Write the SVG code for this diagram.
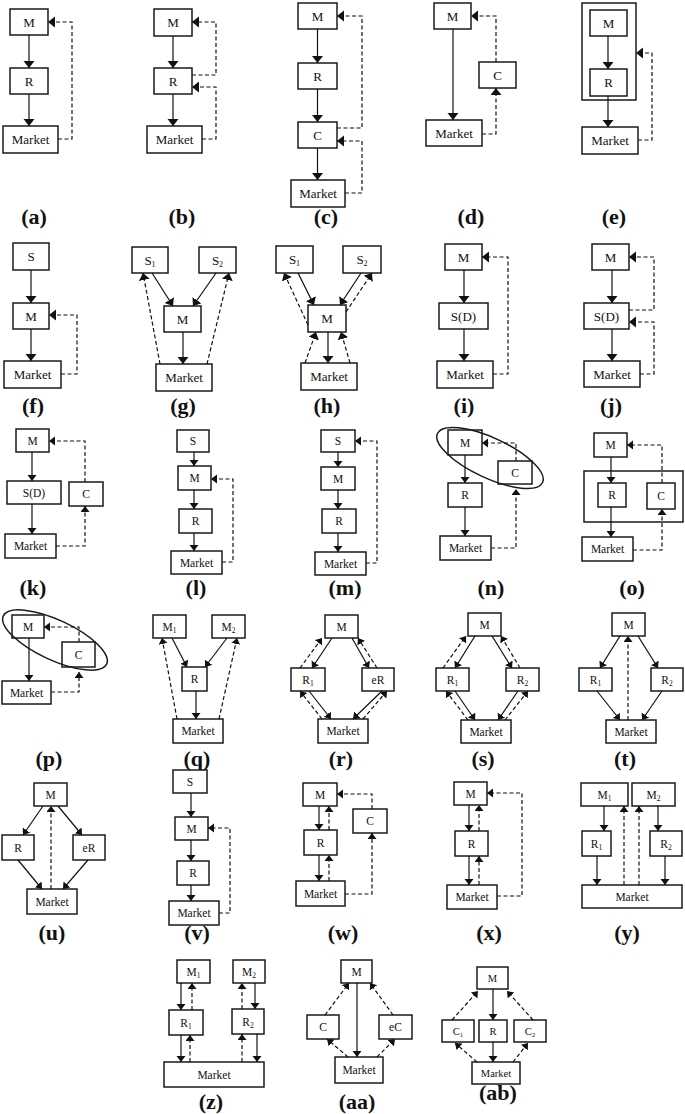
<svg xmlns="http://www.w3.org/2000/svg" width="685" height="1114" viewBox="0 0 685 1114">
<style>
.bx{fill:#fff;stroke:#1a1a1a;stroke-width:1.5}
.fr{fill:none;stroke:#1a1a1a;stroke-width:1.5}
.t{font-family:"Liberation Serif","Times New Roman",serif;font-size:13px;text-anchor:middle;fill:#111}
.t2{font-size:11.5px}
.t3{font-size:10.5px}
.lab{font-family:"Liberation Serif","Times New Roman",serif;font-size:22px;font-weight:bold;text-anchor:middle;fill:#111}
.s{fill:none;stroke:#111;stroke-width:1.2}
.d{fill:none;stroke:#111;stroke-width:1.2;stroke-dasharray:4 2.5}
</style>
<defs>
<marker id="A" markerUnits="userSpaceOnUse" markerWidth="8" markerHeight="12" refX="7" refY="5.5" orient="auto"><path d="M0,0 L7,5.5 L0,11 z" fill="#111"/></marker>
<marker id="B" markerUnits="userSpaceOnUse" markerWidth="7" markerHeight="10" refX="6" refY="4.5" orient="auto"><path d="M0,0 L6,4.5 L0,9 z" fill="#111"/></marker>
</defs>
<rect x="0" y="0" width="685" height="1114" fill="#fff"/>

<!-- (a) -->
<g id="fig-a">
<g id="a-M"><rect class="bx" x="10" y="9" width="38" height="26"/><text class="t" x="29" y="26.5">M</text></g>
<g id="a-R"><rect class="bx" x="10" y="68" width="38" height="26"/><text class="t" x="29" y="85.5">R</text></g>
<g id="a-Market"><rect class="bx" x="3" y="126" width="55" height="27"/><text class="t" x="30.5" y="144">Market</text></g>
<g id="a-edges"><line class="s" x1="29" y1="35" x2="29" y2="68" marker-end="url(#A)"/><line class="s" x1="29" y1="94" x2="29" y2="126" marker-end="url(#A)"/><polyline class="d" points="58,139 72,139 72,22 48,22" marker-end="url(#A)"/></g>
<text class="lab" x="34" y="224">(a)</text>
</g>

<!-- (b) -->
<g id="fig-b">
<g id="b-M"><rect class="bx" x="154" y="9" width="38" height="27"/><text class="t" x="173" y="27">M</text></g>
<g id="b-R"><rect class="bx" x="154" y="68" width="38" height="26"/><text class="t" x="173" y="85.5">R</text></g>
<g id="b-Market"><rect class="bx" x="147" y="126" width="55" height="27"/><text class="t" x="174.5" y="144">Market</text></g>
<g id="b-edges"><line class="s" x1="173" y1="36" x2="173" y2="68" marker-end="url(#A)"/><line class="s" x1="173" y1="94" x2="173" y2="126" marker-end="url(#A)"/><polyline class="d" points="192,75 216,75 216,22 192,22" marker-end="url(#A)"/><polyline class="d" points="202,139 216,139 216,87 192,87" marker-end="url(#A)"/></g>
<text class="lab" x="182" y="224">(b)</text>
</g>

<!-- (c) -->
<g id="fig-c">
<g id="c-M"><rect class="bx" x="298" y="3" width="39" height="26"/><text class="t" x="317.5" y="20.5">M</text></g>
<g id="c-R"><rect class="bx" x="298" y="63" width="39" height="26"/><text class="t" x="317.5" y="80.5">R</text></g>
<g id="c-C"><rect class="bx" x="298" y="122" width="39" height="26"/><text class="t" x="317.5" y="139.5">C</text></g>
<g id="c-Market"><rect class="bx" x="291" y="180" width="54" height="27"/><text class="t" x="318" y="198">Market</text></g>
<g id="c-edges"><line class="s" x1="317.5" y1="29" x2="317.5" y2="63" marker-end="url(#A)"/><line class="s" x1="317.5" y1="89" x2="317.5" y2="122" marker-end="url(#A)"/><line class="s" x1="317.5" y1="148" x2="317.5" y2="180" marker-end="url(#A)"/><polyline class="d" points="337,128 362,128 362,16 337,16" marker-end="url(#A)"/><polyline class="d" points="345,193 362,193 362,141 337,141" marker-end="url(#A)"/></g>
<text class="lab" x="326" y="224">(c)</text>
</g>

<!-- (d) -->
<g id="fig-d">
<g id="d-M"><rect class="bx" x="434" y="3" width="37" height="26"/><text class="t" x="452.5" y="20.5">M</text></g>
<g id="d-C"><rect class="bx" x="479" y="62" width="37" height="26"/><text class="t" x="497.5" y="79.5">C</text></g>
<g id="d-Market"><rect class="bx" x="426" y="120" width="56" height="26"/><text class="t" x="454" y="137.5">Market</text></g>
<g id="d-edges"><line class="s" x1="453" y1="29" x2="453" y2="120" marker-end="url(#A)"/><polyline class="d" points="496,62 496,16 471,16" marker-end="url(#A)"/><polyline class="d" points="482,134 496,134 496,88" marker-end="url(#A)"/></g>
<text class="lab" x="471" y="224">(d)</text>
</g>

<!-- (e) -->
<g id="fig-e">
<g id="e-group"><rect class="fr" x="582" y="3" width="54" height="97"/></g>
<g id="e-M"><rect class="bx" x="590" y="10" width="37" height="26"/><text class="t" x="608.5" y="27.5">M</text></g>
<g id="e-R"><rect class="bx" x="590" y="69" width="37" height="27"/><text class="t" x="608.5" y="87">R</text></g>
<g id="e-Market"><rect class="bx" x="582" y="127" width="56" height="27"/><text class="t" x="610" y="145">Market</text></g>
<g id="e-edges"><line class="s" x1="608" y1="36" x2="608" y2="69" marker-end="url(#A)"/><line class="s" x1="608" y1="96" x2="608" y2="127" marker-end="url(#A)"/><polyline class="d" points="638,140 652,140 652,53 636,53" marker-end="url(#A)"/></g>
<text class="lab" x="614" y="224">(e)</text>
</g>

<!-- (f) -->
<g id="fig-f">
<g id="f-S"><rect class="bx" x="13" y="243" width="36" height="27"/><text class="t" x="31" y="261">S</text></g>
<g id="f-M"><rect class="bx" x="13" y="303" width="36" height="26"/><text class="t" x="31" y="320.5">M</text></g>
<g id="f-Market"><rect class="bx" x="4" y="361" width="57" height="27"/><text class="t" x="32.5" y="379">Market</text></g>
<g id="f-edges"><line class="s" x1="31" y1="270" x2="31" y2="303" marker-end="url(#A)"/><line class="s" x1="31" y1="329" x2="31" y2="361" marker-end="url(#A)"/><polyline class="d" points="61,374 77,374 77,315 49,315" marker-end="url(#A)"/></g>
<text class="lab" x="33" y="413">(f)</text>
</g>

<!-- (g) -->
<g id="fig-g">
<g id="g-S1"><rect class="bx" x="132" y="247" width="36" height="26"/><text class="t" x="150" y="264.5">S<tspan font-size="8" dy="2">1</tspan></text></g>
<g id="g-S2"><rect class="bx" x="199" y="247" width="37" height="26"/><text class="t" x="217.5" y="264.5">S<tspan font-size="8" dy="2">2</tspan></text></g>
<g id="g-M"><rect class="bx" x="164" y="306" width="37" height="26"/><text class="t" x="182.5" y="323.5">M</text></g>
<g id="g-Market"><rect class="bx" x="156" y="364" width="56" height="27"/><text class="t" x="184" y="382">Market</text></g>
<g id="g-edges"><line class="s" x1="152" y1="273" x2="173" y2="306" marker-end="url(#A)"/><line class="s" x1="216" y1="273" x2="193" y2="306" marker-end="url(#A)"/><line class="s" x1="183" y1="332" x2="183" y2="364" marker-end="url(#A)"/><line class="d" x1="160" y1="364" x2="143" y2="273" marker-end="url(#A)"/><line class="d" x1="207" y1="364" x2="229" y2="273" marker-end="url(#A)"/></g>
<text class="lab" x="183" y="413">(g)</text>
</g>

<!-- (h) -->
<g id="fig-h">
<g id="h-S1"><rect class="bx" x="276" y="246" width="37" height="27"/><text class="t" x="294.5" y="264">S<tspan font-size="8" dy="2">1</tspan></text></g>
<g id="h-S2"><rect class="bx" x="343" y="246" width="38" height="27"/><text class="t" x="362" y="264">S<tspan font-size="8" dy="2">2</tspan></text></g>
<g id="h-M"><rect class="bx" x="308" y="305" width="38" height="27"/><text class="t" x="327" y="323">M</text></g>
<g id="h-Market"><rect class="bx" x="301" y="363" width="56" height="27"/><text class="t" x="329" y="381">Market</text></g>
<g id="h-edges"><line class="s" x1="298" y1="273" x2="314" y2="305" marker-end="url(#A)"/><line class="s" x1="361" y1="273" x2="340" y2="305" marker-end="url(#A)"/><line class="s" x1="328" y1="332" x2="328" y2="363" marker-end="url(#A)"/><line class="d" x1="308" y1="325" x2="284" y2="273" marker-end="url(#A)"/><line class="d" x1="346" y1="312" x2="372" y2="273" marker-end="url(#A)"/><line class="d" x1="305" y1="363" x2="316" y2="332" marker-end="url(#A)"/><line class="d" x1="350" y1="363" x2="341" y2="332" marker-end="url(#A)"/></g>
<text class="lab" x="327" y="413">(h)</text>
</g>

<!-- (i) -->
<g id="fig-i">
<g id="i-M"><rect class="bx" x="445" y="244" width="37" height="26"/><text class="t" x="463.5" y="261.5">M</text></g>
<g id="i-SD"><rect class="bx" x="439" y="303" width="49" height="26"/><text class="t" x="463.5" y="320.5">S(D)</text></g>
<g id="i-Market"><rect class="bx" x="437" y="361" width="56" height="27"/><text class="t" x="465" y="379">Market</text></g>
<g id="i-edges"><line class="s" x1="464" y1="270" x2="464" y2="303" marker-end="url(#A)"/><line class="s" x1="464" y1="329" x2="464" y2="361" marker-end="url(#A)"/><polyline class="d" points="493,374 508,374 508,257 482,257" marker-end="url(#A)"/></g>
<text class="lab" x="464" y="413">(i)</text>
</g>

<!-- (j) -->
<g id="fig-j">
<g id="j-M"><rect class="bx" x="592" y="244" width="37" height="26"/><text class="t" x="610.5" y="261.5">M</text></g>
<g id="j-SD"><rect class="bx" x="584" y="303" width="45" height="26"/><text class="t" x="606.5" y="320.5">S(D)</text></g>
<g id="j-Market"><rect class="bx" x="584" y="361" width="56" height="26"/><text class="t" x="612" y="378.5">Market</text></g>
<g id="j-edges"><line class="s" x1="612" y1="270" x2="612" y2="303" marker-end="url(#A)"/><line class="s" x1="612" y1="329" x2="612" y2="361" marker-end="url(#A)"/><polyline class="d" points="629,310 654,310 654,257 629,257" marker-end="url(#A)"/><polyline class="d" points="640,374 654,374 654,322 629,322" marker-end="url(#A)"/></g>
<text class="lab" x="611" y="413">(j)</text>
</g>

<!-- (k) -->
<g id="fig-k">
<g id="k-M"><rect class="bx" x="16" y="429" width="33" height="23"/><text class="t t2" x="32.5" y="444.5">M</text></g>
<g id="k-SD"><rect class="bx" x="7" y="481" width="54" height="23"/><text class="t t2" x="34" y="496.5">S(D)</text></g>
<g id="k-C"><rect class="bx" x="69" y="482" width="34" height="24"/><text class="t t2" x="86" y="498">C</text></g>
<g id="k-Market"><rect class="bx" x="5" y="534" width="51" height="24"/><text class="t t2" x="30.5" y="550">Market</text></g>
<g id="k-edges"><line class="s" x1="32" y1="452" x2="32" y2="481" marker-end="url(#B)"/><line class="s" x1="32" y1="504" x2="32" y2="534" marker-end="url(#B)"/><polyline class="d" points="85,482 85,441 49,441" marker-end="url(#B)"/><polyline class="d" points="56,546 85,546 85,506" marker-end="url(#B)"/></g>
<text class="lab" x="33" y="595">(k)</text>
</g>

<!-- (l) -->
<g id="fig-l">
<g id="l-S"><rect class="bx" x="177" y="430" width="32" height="22"/><text class="t t2" x="193" y="445">S</text></g>
<g id="l-M"><rect class="bx" x="178" y="466" width="33" height="24"/><text class="t t2" x="194.5" y="482">M</text></g>
<g id="l-R"><rect class="bx" x="179" y="509" width="33" height="24"/><text class="t t2" x="195.5" y="525">R</text></g>
<g id="l-Market"><rect class="bx" x="171" y="551" width="51" height="23"/><text class="t t2" x="196.5" y="566.5">Market</text></g>
<g id="l-edges"><line class="s" x1="194" y1="452" x2="194" y2="466" marker-end="url(#B)"/><line class="s" x1="194" y1="490" x2="194" y2="509" marker-end="url(#B)"/><line class="s" x1="194" y1="533" x2="194" y2="551" marker-end="url(#B)"/><polyline class="d" points="222,562 233,562 233,479 211,479" marker-end="url(#B)"/></g>
<text class="lab" x="196" y="595">(l)</text>
</g>

<!-- (m) -->
<g id="fig-m">
<g id="m-S"><rect class="bx" x="321" y="430" width="34" height="22"/><text class="t t2" x="338" y="445">S</text></g>
<g id="m-M"><rect class="bx" x="321" y="467" width="34" height="23"/><text class="t t2" x="338" y="482.5">M</text></g>
<g id="m-R"><rect class="bx" x="322" y="509" width="34" height="24"/><text class="t t2" x="339" y="525">R</text></g>
<g id="m-Market"><rect class="bx" x="315" y="552" width="51" height="23"/><text class="t t2" x="340.5" y="567.5">Market</text></g>
<g id="m-edges"><line class="s" x1="338" y1="452" x2="338" y2="467" marker-end="url(#B)"/><line class="s" x1="338" y1="490" x2="338" y2="509" marker-end="url(#B)"/><line class="s" x1="338" y1="533" x2="338" y2="552" marker-end="url(#B)"/><polyline class="d" points="366,563 377,563 377,441 355,441" marker-end="url(#B)"/></g>
<text class="lab" x="345" y="595">(m)</text>
</g>

<!-- (n) -->
<g id="fig-n">
<g id="n-M"><rect class="bx" x="448" y="430" width="34" height="25"/><text class="t t2" x="465" y="446.5">M</text></g>
<g id="n-C"><rect class="bx" x="498" y="461" width="34" height="23"/><text class="t t2" x="515" y="476.5">C</text></g>
<g id="n-ellipse"><ellipse class="fr" cx="490" cy="458" rx="58" ry="20" transform="rotate(25 490 458)"/></g>
<g id="n-R"><rect class="bx" x="448" y="483" width="34" height="24"/><text class="t t2" x="465" y="499">R</text></g>
<g id="n-Market"><rect class="bx" x="440" y="536" width="51" height="24"/><text class="t t2" x="465.5" y="552">Market</text></g>
<g id="n-edges"><line class="s" x1="465" y1="455" x2="465" y2="483" marker-end="url(#B)"/><line class="s" x1="465" y1="507" x2="465" y2="536" marker-end="url(#B)"/><polyline class="d" points="516,461 516,443 482,443" marker-end="url(#B)"/><polyline class="d" points="491,548 516,548 516,489" marker-end="url(#B)"/></g>
<text class="lab" x="491" y="595">(n)</text>
</g>

<!-- (o) -->
<g id="fig-o">
<g id="o-M"><rect class="bx" x="594" y="433" width="33" height="24"/><text class="t t2" x="610.5" y="449">M</text></g>
<g id="o-group"><rect class="fr" x="584" y="471" width="99" height="51"/></g>
<g id="o-R"><rect class="bx" x="598" y="483" width="28" height="24"/><text class="t t2" x="612" y="499">R</text></g>
<g id="o-C"><rect class="bx" x="647" y="483" width="28" height="26"/><text class="t t2" x="661" y="500">C</text></g>
<g id="o-Market"><rect class="bx" x="582" y="537" width="51" height="24"/><text class="t t2" x="607.5" y="553">Market</text></g>
<g id="o-edges"><line class="s" x1="611" y1="457" x2="611" y2="483" marker-end="url(#B)"/><line class="s" x1="611" y1="507" x2="611" y2="537" marker-end="url(#B)"/><polyline class="d" points="662,483 662,445 627,445" marker-end="url(#B)"/><polyline class="d" points="633,550 662,550 662,509" marker-end="url(#B)"/></g>
<text class="lab" x="632" y="595">(o)</text>
</g>

<!-- (p) -->
<g id="fig-p">
<g id="p-M"><rect class="bx" x="12" y="615" width="32" height="23"/><text class="t t2" x="28" y="630.5">M</text></g>
<g id="p-C"><rect class="bx" x="62" y="642" width="33" height="25"/><text class="t t2" x="78.5" y="658.5">C</text></g>
<g id="p-ellipse"><ellipse class="fr" cx="55" cy="640" rx="57" ry="20" transform="rotate(25 55 640)"/></g>
<g id="p-Market"><rect class="bx" x="2" y="681" width="49" height="23"/><text class="t t2" x="26.5" y="696.5">Market</text></g>
<g id="p-edges"><line class="s" x1="29" y1="638" x2="29" y2="681" marker-end="url(#B)"/><polyline class="d" points="79,642 79,627 44,627" marker-end="url(#B)"/><polyline class="d" points="51,692 79,692 79,672" marker-end="url(#B)"/></g>
<text class="lab" x="49" y="766">(p)</text>
</g>

<!-- (q) -->
<g id="fig-q">
<g id="q-M1"><rect class="bx" x="153" y="615" width="33" height="23"/><text class="t t2" x="169.5" y="630.5">M<tspan font-size="7.5" dy="2">1</tspan></text></g>
<g id="q-M2"><rect class="bx" x="212" y="615" width="33" height="23"/><text class="t t2" x="228.5" y="630.5">M<tspan font-size="7.5" dy="2">2</tspan></text></g>
<g id="q-R"><rect class="bx" x="182" y="667" width="25" height="24"/><text class="t t2" x="194.5" y="683">R</text></g>
<g id="q-Market"><rect class="bx" x="173" y="719" width="50" height="24"/><text class="t t2" x="198" y="735">Market</text></g>
<g id="q-edges"><line class="s" x1="172" y1="638" x2="187" y2="667" marker-end="url(#B)"/><line class="s" x1="227" y1="638" x2="205" y2="667" marker-end="url(#B)"/><line class="s" x1="196" y1="691" x2="196" y2="719" marker-end="url(#B)"/><line class="d" x1="177" y1="719" x2="162" y2="638" marker-end="url(#B)"/><line class="d" x1="219" y1="719" x2="237" y2="638" marker-end="url(#B)"/></g>
<text class="lab" x="197" y="766">(q)</text>
</g>

<!-- (r) -->
<g id="fig-r">
<g id="r-M"><rect class="bx" x="325" y="615" width="33" height="23"/><text class="t t2" x="341.5" y="630.5">M</text></g>
<g id="r-R1"><rect class="bx" x="291" y="668" width="34" height="23"/><text class="t t2" x="308" y="683.5">R<tspan font-size="7.5" dy="2">1</tspan></text></g>
<g id="r-eR"><rect class="bx" x="362" y="668" width="32" height="23"/><text class="t t2" x="378" y="683.5">eR</text></g>
<g id="r-Market"><rect class="bx" x="318" y="719" width="50" height="24"/><text class="t t2" x="343" y="735">Market</text></g>
<g id="r-edges"><line class="s" x1="332" y1="638" x2="312" y2="668" marker-end="url(#B)"/><line class="s" x1="352" y1="638" x2="369" y2="668" marker-end="url(#B)"/><line class="s" x1="309" y1="691" x2="331" y2="719" marker-end="url(#B)"/><line class="s" x1="382" y1="691" x2="353" y2="719" marker-end="url(#B)"/><line class="d" x1="300" y1="668" x2="322" y2="638" marker-end="url(#B)"/><line class="d" x1="377" y1="668" x2="358" y2="638" marker-end="url(#B)"/><line class="d" x1="322" y1="719" x2="300" y2="691" marker-end="url(#B)"/><line class="d" x1="363" y1="719" x2="387" y2="691" marker-end="url(#B)"/></g>
<text class="lab" x="341" y="766">(r)</text>
</g>

<!-- (s) -->
<g id="fig-s">
<g id="s-M"><rect class="bx" x="468" y="613" width="33" height="23"/><text class="t t2" x="484.5" y="628.5">M</text></g>
<g id="s-R1"><rect class="bx" x="436" y="668" width="33" height="23"/><text class="t t2" x="452.5" y="683.5">R<tspan font-size="7.5" dy="2">1</tspan></text></g>
<g id="s-R2"><rect class="bx" x="506" y="668" width="33" height="23"/><text class="t t2" x="522.5" y="683.5">R<tspan font-size="7.5" dy="2">2</tspan></text></g>
<g id="s-Market"><rect class="bx" x="461" y="720" width="50" height="23"/><text class="t t2" x="486" y="735.5">Market</text></g>
<g id="s-edges"><line class="s" x1="475" y1="636" x2="455" y2="668" marker-end="url(#B)"/><line class="s" x1="492" y1="636" x2="512" y2="668" marker-end="url(#B)"/><line class="s" x1="455" y1="691" x2="475" y2="720" marker-end="url(#B)"/><line class="s" x1="518" y1="691" x2="498" y2="720" marker-end="url(#B)"/><line class="d" x1="443" y1="668" x2="466" y2="636" marker-end="url(#B)"/><line class="d" x1="520" y1="668" x2="501" y2="636" marker-end="url(#B)"/><line class="d" x1="468" y1="720" x2="446" y2="691" marker-end="url(#B)"/><line class="d" x1="505" y1="720" x2="528" y2="691" marker-end="url(#B)"/></g>
<text class="lab" x="483" y="766">(s)</text>
</g>

<!-- (t) -->
<g id="fig-t">
<g id="t-M"><rect class="bx" x="612" y="613" width="33" height="23"/><text class="t t2" x="628.5" y="628.5">M</text></g>
<g id="t-R1"><rect class="bx" x="579" y="668" width="33" height="23"/><text class="t t2" x="595.5" y="683.5">R<tspan font-size="7.5" dy="2">1</tspan></text></g>
<g id="t-R2"><rect class="bx" x="651" y="668" width="32" height="23"/><text class="t t2" x="667" y="683.5">R<tspan font-size="7.5" dy="2">2</tspan></text></g>
<g id="t-Market"><rect class="bx" x="606" y="720" width="50" height="23"/><text class="t t2" x="631" y="735.5">Market</text></g>
<g id="t-edges"><line class="s" x1="620" y1="636" x2="600" y2="668" marker-end="url(#B)"/><line class="s" x1="638" y1="636" x2="658" y2="668" marker-end="url(#B)"/><line class="s" x1="597" y1="691" x2="620" y2="720" marker-end="url(#B)"/><line class="s" x1="662" y1="691" x2="642" y2="720" marker-end="url(#B)"/><line class="d" x1="628" y1="720" x2="628" y2="636" marker-end="url(#B)"/></g>
<text class="lab" x="625" y="766">(t)</text>
</g>

<!-- (u) -->
<g id="fig-u">
<g id="u-M"><rect class="bx" x="34" y="783" width="33" height="23"/><text class="t t2" x="50.5" y="798.5">M</text></g>
<g id="u-R"><rect class="bx" x="2" y="835" width="32" height="25"/><text class="t t2" x="18" y="851.5">R</text></g>
<g id="u-eR"><rect class="bx" x="73" y="835" width="32" height="25"/><text class="t t2" x="89" y="851.5">eR</text></g>
<g id="u-Market"><rect class="bx" x="27" y="889" width="50" height="25"/><text class="t t2" x="52" y="905.5">Market</text></g>
<g id="u-edges"><line class="s" x1="43" y1="806" x2="23" y2="835" marker-end="url(#B)"/><line class="s" x1="58" y1="806" x2="82" y2="835" marker-end="url(#B)"/><line class="s" x1="18" y1="860" x2="42" y2="889" marker-end="url(#B)"/><line class="s" x1="88" y1="860" x2="63" y2="889" marker-end="url(#B)"/><line class="d" x1="51" y1="889" x2="51" y2="806" marker-end="url(#B)"/></g>
<text class="lab" x="52" y="940">(u)</text>
</g>

<!-- (v) -->
<g id="fig-v">
<g id="v-S"><rect class="bx" x="173" y="770" width="34" height="23"/><text class="t t2" x="190" y="785.5">S</text></g>
<g id="v-M"><rect class="bx" x="175" y="817" width="33" height="23"/><text class="t t2" x="191.5" y="832.5">M</text></g>
<g id="v-R"><rect class="bx" x="177" y="861" width="32" height="24"/><text class="t t2" x="193" y="877">R</text></g>
<g id="v-Market"><rect class="bx" x="169" y="901" width="50" height="24"/><text class="t t2" x="194" y="917">Market</text></g>
<g id="v-edges"><line class="s" x1="191" y1="793" x2="191" y2="817" marker-end="url(#B)"/><line class="s" x1="191" y1="840" x2="191" y2="861" marker-end="url(#B)"/><line class="s" x1="191" y1="885" x2="191" y2="901" marker-end="url(#B)"/><polyline class="d" points="219,913 230,913 230,828 208,828" marker-end="url(#B)"/></g>
<text class="lab" x="197" y="940">(v)</text>
</g>

<!-- (w) -->
<g id="fig-w">
<g id="w-M"><rect class="bx" x="303" y="783" width="34" height="23"/><text class="t t2" x="320" y="798.5">M</text></g>
<g id="w-C"><rect class="bx" x="353" y="809" width="34" height="24"/><text class="t t2" x="370" y="825">C</text></g>
<g id="w-R"><rect class="bx" x="304" y="830" width="33" height="25"/><text class="t t2" x="320.5" y="846.5">R</text></g>
<g id="w-Market"><rect class="bx" x="296" y="881" width="49" height="25"/><text class="t t2" x="320.5" y="897.5">Market</text></g>
<g id="w-edges"><line class="s" x1="319" y1="806" x2="319" y2="830" marker-end="url(#B)"/><line class="d" x1="329" y1="830" x2="329" y2="806" marker-end="url(#B)"/><line class="s" x1="319" y1="855" x2="319" y2="881" marker-end="url(#B)"/><line class="d" x1="329" y1="881" x2="329" y2="855" marker-end="url(#B)"/><polyline class="d" points="372,809 372,794 337,794" marker-end="url(#B)"/><polyline class="d" points="345,894 372,894 372,833" marker-end="url(#B)"/></g>
<text class="lab" x="343" y="940">(w)</text>
</g>

<!-- (x) -->
<g id="fig-x">
<g id="x-M"><rect class="bx" x="454" y="782" width="33" height="23"/><text class="t t2" x="470.5" y="797.5">M</text></g>
<g id="x-R"><rect class="bx" x="455" y="831" width="33" height="25"/><text class="t t2" x="471.5" y="847.5">R</text></g>
<g id="x-Market"><rect class="bx" x="447" y="885" width="50" height="24"/><text class="t t2" x="472" y="901">Market</text></g>
<g id="x-edges"><line class="s" x1="469" y1="805" x2="469" y2="831" marker-end="url(#B)"/><line class="d" x1="479" y1="831" x2="479" y2="805" marker-end="url(#B)"/><line class="s" x1="469" y1="856" x2="469" y2="885" marker-end="url(#B)"/><line class="d" x1="479" y1="885" x2="479" y2="856" marker-end="url(#B)"/><polyline class="d" points="497,896 522,896 522,793 487,793" marker-end="url(#B)"/></g>
<text class="lab" x="489" y="940">(x)</text>
</g>

<!-- (y) -->
<g id="fig-y">
<g id="y-M1"><rect class="bx" x="581" y="783" width="47" height="23"/><text class="t t2" x="604.5" y="798.5">M<tspan font-size="7.5" dy="2">1</tspan></text></g>
<g id="y-M2"><rect class="bx" x="632" y="783" width="43" height="23"/><text class="t t2" x="653.5" y="798.5">M<tspan font-size="7.5" dy="2">2</tspan></text></g>
<g id="y-R1"><rect class="bx" x="582" y="831" width="29" height="25"/><text class="t t2" x="596.5" y="847.5">R<tspan font-size="7.5" dy="2">1</tspan></text></g>
<g id="y-R2"><rect class="bx" x="650" y="831" width="32" height="25"/><text class="t t2" x="666" y="847.5">R<tspan font-size="7.5" dy="2">2</tspan></text></g>
<g id="y-Market"><rect class="bx" x="582" y="885" width="100" height="23"/><text class="t t2" x="632" y="900.5">Market</text></g>
<g id="y-edges"><line class="s" x1="604" y1="806" x2="604" y2="831" marker-end="url(#B)"/><line class="s" x1="658" y1="806" x2="658" y2="831" marker-end="url(#B)"/><line class="s" x1="597" y1="856" x2="597" y2="885" marker-end="url(#B)"/><line class="s" x1="665" y1="856" x2="665" y2="885" marker-end="url(#B)"/><line class="d" x1="624" y1="885" x2="624" y2="806" marker-end="url(#B)"/><line class="d" x1="639" y1="885" x2="639" y2="806" marker-end="url(#B)"/></g>
<text class="lab" x="627" y="940">(y)</text>
</g>

<!-- (z) -->
<g id="fig-z">
<g id="z-M1"><rect class="bx" x="177" y="960" width="33" height="23"/><text class="t t2" x="193.5" y="975.5">M<tspan font-size="7.5" dy="2">1</tspan></text></g>
<g id="z-R1"><rect class="bx" x="169" y="1010" width="34" height="25"/><text class="t t2" x="186" y="1026.5">R<tspan font-size="7.5" dy="2">1</tspan></text></g>
<g id="z-M2"><rect class="bx" x="233" y="960" width="32" height="23"/><text class="t t2" x="249" y="975.5">M<tspan font-size="7.5" dy="2">2</tspan></text></g>
<g id="z-R2"><rect class="bx" x="232" y="1009" width="32" height="25"/><text class="t t2" x="248" y="1025.5">R<tspan font-size="7.5" dy="2">2</tspan></text></g>
<g id="z-Market"><rect class="bx" x="164" y="1062" width="100" height="25"/><text class="t t2" x="214" y="1078.5">Market</text></g>
<g id="z-edges"><line class="s" x1="181" y1="983" x2="181" y2="1010" marker-end="url(#B)"/><line class="d" x1="192" y1="1010" x2="192" y2="983" marker-end="url(#B)"/><line class="s" x1="181" y1="1035" x2="181" y2="1062" marker-end="url(#B)"/><line class="d" x1="190" y1="1062" x2="190" y2="1035" marker-end="url(#B)"/><line class="d" x1="242" y1="1009" x2="242" y2="983" marker-end="url(#B)"/><line class="s" x1="255" y1="983" x2="255" y2="1009" marker-end="url(#B)"/><line class="d" x1="242" y1="1062" x2="242" y2="1034" marker-end="url(#B)"/><line class="s" x1="257" y1="1034" x2="257" y2="1062" marker-end="url(#B)"/></g>
<text class="lab" x="211" y="1109">(z)</text>
</g>

<!-- (aa) -->
<g id="fig-aa">
<g id="aa-M"><rect class="bx" x="341" y="960" width="31" height="23"/><text class="t t2" x="356.5" y="975.5">M</text></g>
<g id="aa-C"><rect class="bx" x="307" y="1015" width="32" height="24"/><text class="t t2" x="323" y="1031">C</text></g>
<g id="aa-eC"><rect class="bx" x="379" y="1015" width="33" height="24"/><text class="t t2" x="395.5" y="1031">eC</text></g>
<g id="aa-Market"><rect class="bx" x="335" y="1057" width="48" height="26"/><text class="t t2" x="359" y="1074">Market</text></g>
<g id="aa-edges"><line class="s" x1="357" y1="983" x2="357" y2="1057" marker-end="url(#B)"/><line class="d" x1="325" y1="1015" x2="349" y2="983" marker-end="url(#B)"/><line class="d" x1="348" y1="1057" x2="327" y2="1039" marker-end="url(#B)"/><line class="d" x1="393" y1="1015" x2="370" y2="983" marker-end="url(#B)"/><line class="d" x1="377" y1="1057" x2="395" y2="1039" marker-end="url(#B)"/></g>
<text class="lab" x="357" y="1109">(aa)</text>
</g>

<!-- (ab) -->
<g id="fig-ab">
<g id="ab-M"><rect class="bx" x="477" y="967" width="31" height="22"/><text class="t t3" x="492.5" y="981.5">M</text></g>
<g id="ab-C1"><rect class="bx" x="442" y="1020" width="32" height="22"/><text class="t t3" x="458" y="1034.5">C<tspan font-size="7" dy="2">1</tspan></text></g>
<g id="ab-R"><rect class="bx" x="479" y="1020" width="28" height="22"/><text class="t t3" x="493" y="1034.5">R</text></g>
<g id="ab-C2"><rect class="bx" x="514" y="1020" width="32" height="22"/><text class="t t3" x="530" y="1034.5">C<tspan font-size="7" dy="2">2</tspan></text></g>
<g id="ab-Market"><rect class="bx" x="472" y="1062" width="48" height="22"/><text class="t t3" x="496" y="1076.5">Market</text></g>
<g id="ab-edges"><line class="s" x1="493" y1="989" x2="493" y2="1020" marker-end="url(#B)"/><line class="s" x1="493" y1="1042" x2="493" y2="1062" marker-end="url(#B)"/><line class="d" x1="452" y1="1020" x2="478" y2="991" marker-end="url(#B)"/><line class="d" x1="477" y1="1062" x2="455" y2="1043" marker-end="url(#B)"/><line class="d" x1="533" y1="1020" x2="507" y2="991" marker-end="url(#B)"/><line class="d" x1="513" y1="1062" x2="528" y2="1043" marker-end="url(#B)"/></g>
<text class="lab" x="498" y="1100">(ab)</text>
</g>
</svg>
